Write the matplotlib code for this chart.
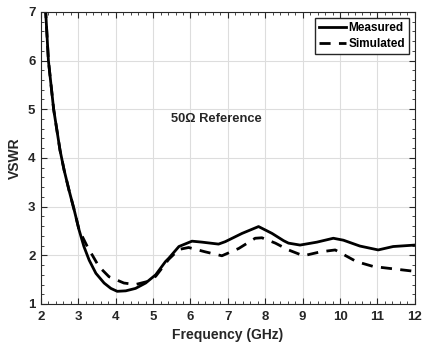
import matplotlib
matplotlib.use("Agg")
import matplotlib.pyplot as plt
from matplotlib.ticker import MultipleLocator

plt.rcParams['font.family'] = ['Liberation Sans', 'DejaVu Sans']
plt.rcParams['font.weight'] = 'bold'

# measured VSWR
freq_meas = [2.12, 2.2, 2.34, 2.51, 2.62, 2.75, 2.89, 3.02, 3.15, 3.29, 3.47, 3.69,
             3.87, 4.04, 4.27, 4.53, 4.8, 5.07, 5.33, 5.42, 5.69, 6.04, 6.31, 6.75,
             6.93, 7.38, 7.82, 8.18, 8.49, 8.62, 8.93, 9.38, 9.82, 10.09, 10.53,
             11.02, 11.42, 12.0]
vswr_meas = [7.1, 6.0, 5.0, 4.16, 3.75, 3.34, 2.93, 2.52, 2.18, 1.9, 1.63, 1.43,
             1.32, 1.26, 1.27, 1.32, 1.43, 1.6, 1.87, 1.94, 2.18, 2.29, 2.27, 2.23,
             2.28, 2.45, 2.59, 2.45, 2.3, 2.25, 2.21, 2.27, 2.35, 2.31, 2.19,
             2.11, 2.18, 2.21]

# simulated VSWR
freq_sim = [2.12, 2.2, 2.34, 2.51, 2.62, 2.75, 2.89, 3.02, 3.24, 3.55, 3.82, 4.22,
            4.53, 4.84, 5.07, 5.42, 5.69, 5.95, 6.4, 6.84, 7.29, 7.73, 7.91, 8.27,
            8.62, 9.02, 9.47, 9.87, 10.44, 10.89, 11.33, 12.0]
vswr_sim = [7.1, 6.0, 5.0, 4.16, 3.75, 3.34, 2.93, 2.52, 2.18, 1.77, 1.56, 1.43,
            1.4, 1.46, 1.57, 1.92, 2.12, 2.16, 2.07, 1.99, 2.14, 2.35, 2.36, 2.25,
            2.11, 1.99, 2.07, 2.11, 1.87, 1.77, 1.73, 1.67]

fig = plt.figure(figsize=(4.22, 3.49), dpi=100)
ax = fig.add_axes([0.097, 0.129, 0.886, 0.837])

ax.plot(freq_meas, vswr_meas, color='black', linewidth=2, label='Measured')
ax.plot(freq_sim, vswr_sim, color='black', linewidth=2, linestyle=(0, (4, 3)),
        label='Simulated')

ax.set_xlim(2, 12)
ax.set_ylim(1, 7)
ax.xaxis.set_major_locator(MultipleLocator(1))
ax.xaxis.set_minor_locator(MultipleLocator(0.2))
ax.yaxis.set_major_locator(MultipleLocator(1))
ax.yaxis.set_minor_locator(MultipleLocator(0.2))
ax.tick_params(which='both', direction='in', top=True, right=True,
               colors='#262626', labelsize=9.5)
ax.tick_params(axis='x', pad=5)
ax.tick_params(axis='y', pad=4)
ax.tick_params(which='major', length=4)
ax.tick_params(which='minor', length=2)
for s in ax.spines.values():
    s.set_color('#262626')
ax.grid(True, which='major', color='#dddddd', linewidth=0.8)

ax.set_xlabel('Frequency (GHz)', fontsize=10, fontweight='bold', color='#262626', labelpad=4)
ax.set_ylabel('VSWR', fontsize=10, fontweight='bold', color='#262626', labelpad=4)

ax.text(6.7, 4.8, '50\u03a9 Reference', fontsize=9.3, fontweight='bold',
        ha='center', va='center', color='#262626')

leg = ax.legend(loc='upper right', fontsize=8.5, fancybox=False, framealpha=1,
                handlelength=2.3, handletextpad=0.2, borderpad=0.35,
                labelspacing=0.35, borderaxespad=0.5)
leg.get_frame().set_edgecolor('#262626')
leg.get_frame().set_linewidth(1)

fig.savefig('out.png', dpi=100)
